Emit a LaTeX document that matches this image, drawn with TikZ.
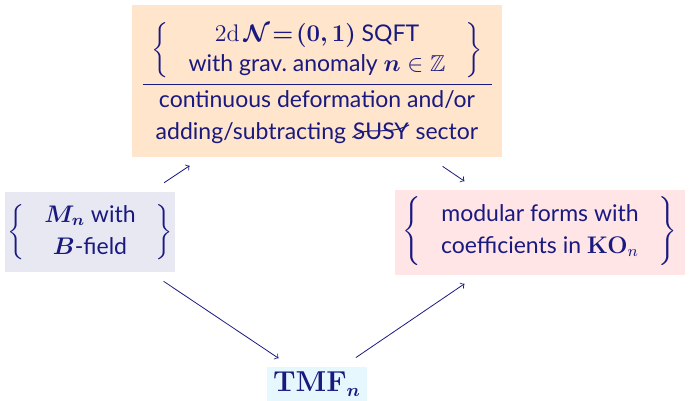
\documentclass[tikz,border=0pt]{standalone}
\usepackage{amsmath,amssymb,bm}
\usepackage[no-math]{fontspec}
\setmainfont{Lato}
\definecolor{ink}{rgb}{0.1,0.1,0.5}
\tikzset{
  box/.style={inner sep=0pt, text=ink, align=center,
    font=\fontsize{11.5}{16}\selectfont},
}
\newcommand{\crossedsusy}{\tikz[baseline=(susy.base)]{%
  \node[inner sep=0pt, minimum size=0pt, text=ink] (susy) {SUSY};
  \draw[ink, line width=0.5pt] ([yshift=1.5pt]susy.south west)
    .. controls ([xshift=7pt,yshift=8pt]susy.south west)
    and ([xshift=-11pt,yshift=-7pt]susy.north east)
    .. ([yshift=-1pt]susy.north east);}}
\begin{document}
\begin{tikzpicture}[x=0.5pt,y=-0.5pt]
  \useasboundingbox (0,0) rectangle (691,401);
  \draw
    (317,81) node[box, fill=orange!20, minimum width=185pt, minimum height=76pt] (qft)
      {$\rule{0pt}{19pt}\bigg\{\hspace{4pt}\begin{tabular}{c}$\mathrm{2d}\,\bm{\mathcal{N}\!=\!(0,1)}$ SQFT\\[-1pt]
        with grav.\ anomaly $\bm{n}\in\mathbb{Z}$\end{tabular}\hspace{4pt}\bigg\}$\\[-1.5pt]
       \rule{174.5pt}{0.4pt}\\[-4.5pt]
       continuous deformation and/or\\
       adding/subtracting \crossedsusy{} sector}
    (90,232) node[box, fill=ink!10, minimum width=85pt, minimum height=40pt] (mfd)
      {$\bigg\{\hspace{4pt}\begin{tabular}{c}$\bm{M_n}$ with\\
        $\bm{B}$-field\end{tabular}\hspace{4pt}\bigg\}$}
    (540,232.5) node[box, fill=red!10, minimum width=145pt, minimum height=42.5pt] (mf)
      {$\left\{\rule[-16pt]{0pt}{33pt}\hspace{4pt}\begin{tabular}{c}modular forms with\\
        coefficients in $\mathbf{KO}_n$\end{tabular}\hspace{4pt}\right\}$}
    (317,384) node[box, fill=cyan!10, minimum width=50pt, minimum height=17pt,
      font=\fontsize{13.5}{16}\selectfont] (tmf)
      {$\mathbf{TMF}_{\bm{n}}$};
  \begin{scope}[->, ink, shorten <=8pt, shorten >=7.5pt]
    \draw (mfd) to (qft);
    \draw (qft) to (mf);
    \draw (mfd) to (tmf);
    \draw (tmf) to (mf);
  \end{scope}
\end{tikzpicture}
\end{document}
